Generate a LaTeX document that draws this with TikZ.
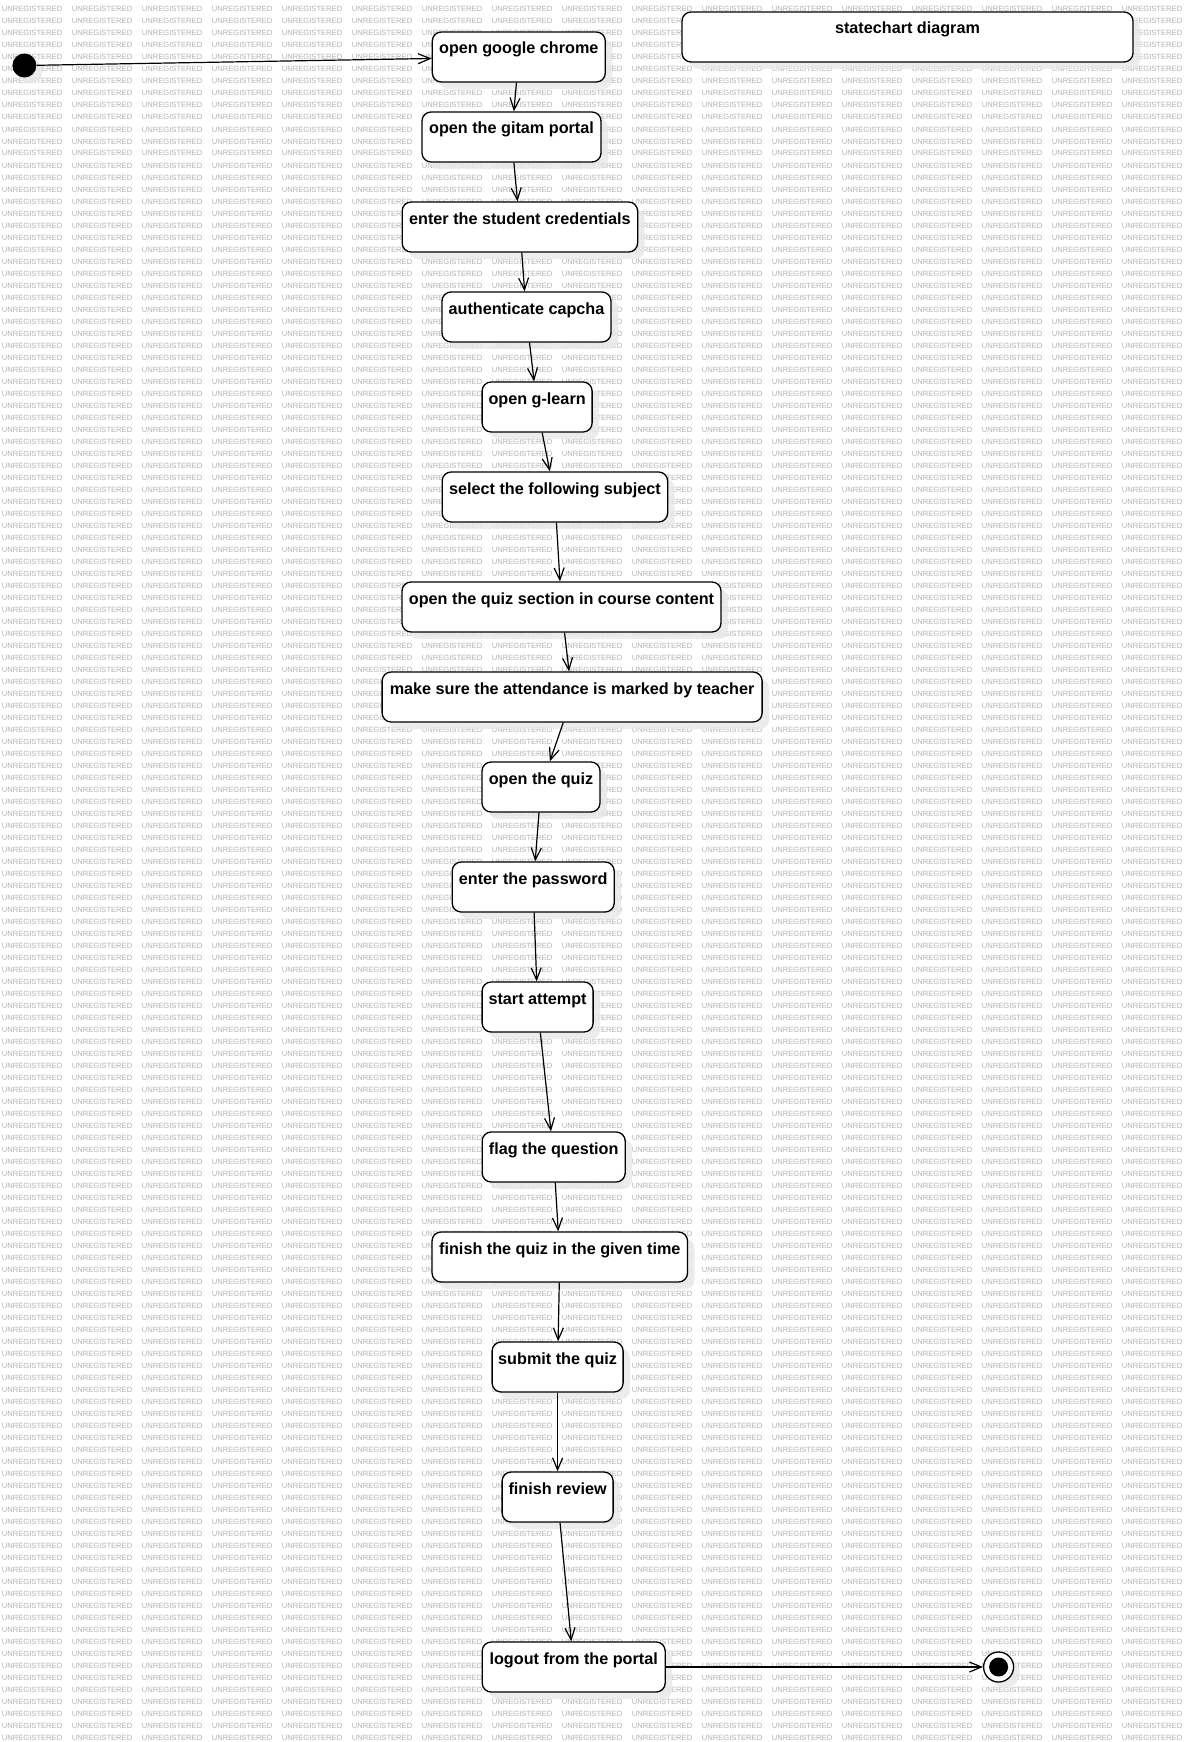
\documentclass[tikz,border=0pt]{standalone}
\usepackage{fontspec}
\setmainfont{Liberation Sans}
\usetikzlibrary{arrows.meta,shadows}
\def\wmunit{\makebox[70pt][l]{UNREGISTERED}}
\def\wmrow{\wmunit\wmunit\wmunit\wmunit\wmunit\wmunit\wmunit\wmunit\wmunit\wmunit\wmunit\wmunit\wmunit\wmunit\wmunit\wmunit\wmunit}
\begin{document}
\begin{tikzpicture}[x=1pt,y=-1pt,
  wmark/.style={anchor=base west, inner sep=0pt, text=black!30, font=\fontsize{7.6}{8}\selectfont},
  stbox/.style={draw=black, line width=1.3pt, rounded corners=9pt, fill=white,
    font=\fontsize{16.2}{18}\selectfont\bfseries, inner xsep=0pt, inner ysep=0pt,
    text height=22pt, text depth=28pt,
    drop shadow={shadow xshift=7pt, shadow yshift=-7pt, fill=black!9, opacity=.8}},
  arr/.style={line width=1.2pt, -{Straight Barb[length=12pt,width=10pt,line width=1.2pt]}},
]
\useasboundingbox (0,0) rectangle (1183,1742);
\clip (0,0) rectangle (1183,1742);
\fill[white] (0,0) rectangle (1183,1742);
% watermark
\foreach \r in {1,...,145}{
  \node[wmark] (wm\r) at (1.7,\r*12) {\wmrow};
}
% states
\node[stbox, minimum width=451] (title) at (907.5,37) {statechart diagram};
\node[stbox, minimum width=173] (s1) at (518.8,57) {open google chrome};
\node[stbox, minimum width=179] (s2) at (511.5,137) {open the gitam portal};
\node[stbox, minimum width=235.5] (s3) at (519.9,227) {enter the student credentials};
\node[stbox, minimum width=169] (s4) at (526.5,317) {authenticate capcha};
\node[stbox, minimum width=110] (s5) at (537.1,407) {open g-learn};
\node[stbox, minimum width=225.5] (s6) at (554.9,497) {select the following subject};
\node[stbox, minimum width=319] (s7) at (561.5,607) {open the quiz section in course content};
\node[stbox, minimum width=380] (s8) at (572.1,697) {make sure the attendance is marked by teacher};
\node[stbox, minimum width=118] (s9) at (541,787) {open the quiz};
\node[stbox, minimum width=162] (s10) at (533.2,887) {enter the password};
\node[stbox, minimum width=111] (s11) at (537.6,1007) {start attempt};
\node[stbox, minimum width=143] (s12) at (553.7,1157) {flag the question};
\node[stbox, minimum width=255.5] (s13) at (559.8,1257) {finish the quiz in the given time};
\node[stbox, minimum width=131] (s14) at (557.6,1367) {submit the quiz};
\node[stbox, minimum width=111] (s15) at (557.6,1497) {finish review};
\node[stbox, minimum width=183] (s16) at (573.7,1667) {logout from the portal};
% initial and final
\node[circle, fill=black, minimum size=24pt, inner sep=0pt,
  drop shadow={shadow xshift=6pt, shadow yshift=-6pt, fill=black!9, opacity=.8}] (init) at (24.4,65.5) {};
\node[circle, draw=black, line width=1.3pt, fill=white, minimum size=30pt, inner sep=0pt,
  drop shadow={shadow xshift=6pt, shadow yshift=-6pt, fill=black!9, opacity=.8}] (fin) at (998.6,1667) {};
\node[circle, fill=black, minimum size=19pt, inner sep=0pt] (finin) at (fin.center) {};
% transitions
\draw[arr] (init) -- (s1);
\draw[arr] (s1) -- (s2);
\draw[arr] (s2) -- (s3);
\draw[arr] (s3) -- (s4);
\draw[arr] (s4) -- (s5);
\draw[arr] (s5) -- (s6);
\draw[arr] (s6) -- (s7);
\draw[arr] (s7) -- (s8);
\draw[arr] (s8) -- (s9);
\draw[arr] (s9) -- (s10);
\draw[arr] (s10) -- (s11);
\draw[arr] (s11) -- (s12);
\draw[arr] (s12) -- (s13);
\draw[arr] (s13) -- (s14);
\draw[arr] (s14) -- (s15);
\draw[arr] (s15) -- (s16);
\draw[arr] (s16) -- (fin);
\end{tikzpicture}
\end{document}
